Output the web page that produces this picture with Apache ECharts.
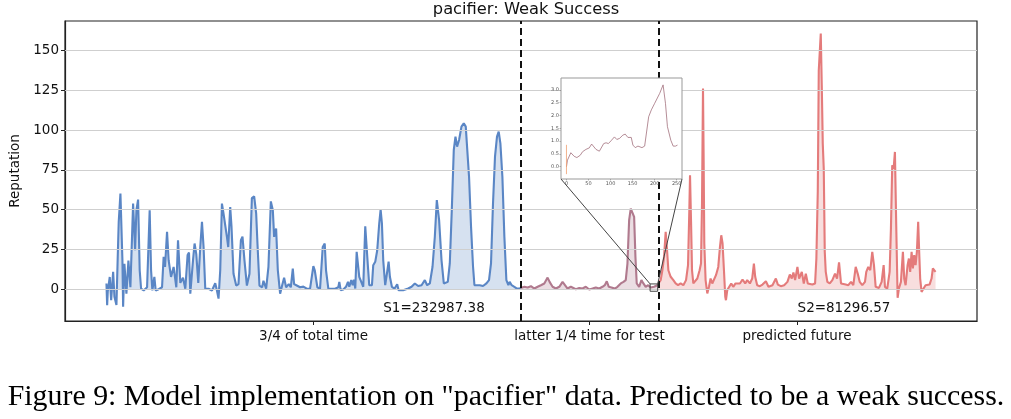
<!DOCTYPE html>
<html><head><meta charset="utf-8">
<script src="https://cdn.jsdelivr.net/npm/echarts@6/dist/echarts.min.js"></script>
<style>html,body{margin:0;padding:0;background:#fff}#c{width:1011px;height:419px}</style>
</head><body><div id="c"></div>
<script>
// ---- data (time index, reputation) ----
const blueT = [0,0.7,1.3,3.3,4.7,6.7,8,10,11.3,12.3,14,14.7,16,16.7,18,20,22,24,26.7,27.3,28.7,30,31.7,33.3,34.7,37.3,40.7,43.3,44.7,46,48,49.3,52.3,55.7,57.3,58.7,60.7,62.3,64.7,67.3,70,71.7,74,76.7,79,81.3,82.7,84,86.7,88.3,90,92,94,95.7,97.3,99,102.3,105.7,109,110.7,112.3,114,115.7,117.3,119,120.7,122,124,125.3,127.3,130,132.3,134.7,136.3,138.3,140.7,143.3,145.7,148,150,151.3,153.3,156,157.3,160,162.3,164.7,166.7,168,170,171.7,174,176,178,180,182.7,184.7,186.7,188,190.7,194,197.3,200.7,204,206,207.3,208.7,210,211.3,214,216.7,218.7,220,222.3,225.7,229,232.3,233.3,234.7,237.3,240,242,243.3,245.3,246.7,248,249.3,250.7,252,253.3,255.3,257.3,259.3,260.7,262,263.3,266,267.3,269.3,271.3,273.3,274.7,276,277.3,279.3,281.3,282.7,284,286,288.7,291.3,292.7,297.3,302.3,305.7,309,310.7,312.3,315.7,319,321.3,324,326.7,329,331,333.3,335.7,338,340,342,344,346,348,349.7,351.3,353.3,355.7,358,360,361.3,363.3,365.3,367.3,368.7,370.7,374,377.3,380.7,383.3,385.3,387.3,389.3,391.3,393,394.7,396.7,398.7,400.7,402.7,404,406,408.7,411.3,414,415];
const blueV = [3.6,-10,-1.6,7.7,-6.9,10.9,-4.8,-10,20.4,42.3,60.1,61.2,18.2,-11,16,-2.8,18,1.2,53.8,54.2,24.5,49.6,56.3,11.9,0.3,-0.8,1.2,49.6,11.9,-0.8,7.7,-0.8,0,1.2,20.4,14,36.1,18.2,7.7,14,1.2,30.8,4,7.2,0.3,21.5,23,-2.8,18,28.7,22,4,26.5,42.3,26.5,0.3,0.3,-0.8,3.7,-0.8,-5.9,11.9,53.8,47.5,48.6,32.9,26.5,51.7,39.2,9.7,2.3,3.2,30.8,33,18,2.3,9.7,57.3,58.4,47.6,28.7,2.3,1.2,5.3,0.3,14,55.2,49.6,32.9,38.2,11.9,-2.8,2.3,7.2,1.2,3.2,1.2,12.9,3.2,2.3,1.2,1.6,0.3,0.3,1.2,14.5,11.9,12.9,1.2,0.3,26.5,28.7,11.9,0.3,0.3,0.3,1.2,4.6,-0.6,-0.2,1.5,4.6,1.5,5.7,2.5,6,0.4,23.5,22.5,7.8,6.8,1.5,39.6,39.2,14.1,2.5,2.5,15.1,17.2,24.5,41.3,50.1,41.3,18.3,2.5,11,17.3,7.8,1.5,0.4,3.1,-0.6,-0.6,0.4,1.5,3.6,4.6,2,2.5,5.7,2.5,3.6,14.1,32.9,56,43.4,18.3,3.6,2.5,4.6,16.2,49.7,87.5,95.9,89.6,93.8,102.2,104.3,102.2,89.6,70.7,39.2,14.1,2.5,1.5,2.5,2,3.6,5.7,16.2,53.9,83.3,95.9,99,91.7,70.7,32.9,5.7,2.5,4.6,2.5,1.5,0.4,0.4,0.8];

const testT = [415,418.7,422,425.3,428.7,432,435.3,438.7,442,444,447,450.3,453.7,457,458.7,462,465.3,470.3,473.7,477,480.3,483.7,487,490.3,493.7,497,499.3,501.3,503.3,506,509.3,512,515.3,518,520.3,522,523.7,525.3,527,528.7,530,531.3,533.7,536,538,540.3,542.7,545.3,548.7,552,553];
const testV = [0.8,1.5,1.1,1.9,0.4,1.5,2.5,3.6,7.3,4.6,1.5,0.4,1.5,4.6,3.6,0.4,1.5,0,0.8,0.4,1.5,-0.2,0.4,1.1,0.4,1.5,2.5,5,1.5,1.1,0.4,1.5,3.6,4.6,5.7,16.1,43.4,50.7,51.8,45.5,20.3,3.6,1.5,5.7,3.6,1.5,2.5,1.1,1.5,2.5,3.6];

const redT = [553,555.3,557,558.7,560.3,561.7,563,565.3,568,570.3,572.7,575.3,578,580.7,582.7,584,584.7,585.7,586.7,588,589.7,592,594.3,595.7,596.7,597.7,598.3,599,600.3,602,603.7,605.3,607,608.7,610.7,613,614.7,616,617.3,618.7,620,620.7,622,624,626,628,630.3,632,634.7,637.3,640,642,644.7,647,648.7,650,652,654.7,657.3,660.7,663.3,667.3,670.7,672.7,675.7,679,682.3,684.7,686.7,688.3,690,692.3,694,696.7,698.7,700.7,702.7,704.7,707.3,710,711.3,712.7,713.7,714.7,715.7,716.7,717.7,718.7,719.7,720.7,722.3,724.7,727.3,730,732,734,736,738,740.7,743.3,746,748.3,750.7,752.7,754.7,757.3,760,761.3,763.3,765.3,767.3,769,770.7,774,776.7,778.7,780,782.3,784.7,786,787.3,788.7,790,791.3,792.7,794,796,798,799.3,800.7,802.7,804,805.3,806.7,808,809.3,810.7,812,813.3,814.3,815.3,816.7,818.7,820.7,822.7,824.7,826.7,828,829.3,830.7];
const redV = [3.6,5.7,11.9,20.3,36,24.5,11.9,7.8,5.7,3.6,2.5,3.6,2.5,5.7,15.1,49.6,71.6,43.4,11.9,3.6,4.6,6.7,11.9,16.1,53.8,126.1,85.3,28.7,5.7,-2.7,1.5,6.7,3.6,4.6,8.8,14,26.6,33.9,28.7,11.9,-4.8,-6.9,-0.6,1.5,3.6,1.5,3.6,4.6,3.6,6.1,3.6,5.7,3.6,6.7,16.1,7.8,2.5,1.9,2.9,5,1.5,2.5,6.7,2.9,1.9,2.5,4.6,9.2,6.7,10.5,5.7,14,6.7,10.9,3.6,9.8,3.6,2.5,2.9,3.6,19.3,61.2,137.6,138.7,160.7,128.2,91.5,75.8,23.5,10.9,4.6,3.6,5.7,9.8,6.7,16.8,3.6,2.5,2.9,2.5,4.6,2.5,14,9.8,4.6,2.5,4.6,10.9,14,11.9,23.5,15.1,1.5,0.8,4.6,15.1,1.5,0.4,10.9,38.1,77.9,75.8,86.3,40.2,-5.4,0.4,4.6,23.5,6.7,2.5,15.1,19.3,10.9,23.5,13,21.4,15.1,23.5,42.3,23.5,6.7,-1.7,0.4,2.5,3.6,2.9,6.7,13,14,10.9];

const yTicks = [0,25,50,75,100,125,150];
const xTickLabels = ['3/4 of total time','latter 1/4 time for test','predicted future'];
const scoreLabels = ['S1=232987.38','S2=81296.57'];
const titleText = 'pacifier: Weak Success';
const captionText = 'Figure 9: Model implementation on "pacifier" data. Predicted to be a weak success.';

// inset (zoomed view)
const insetX = [0,2.3,9.9,13.7,17.5,23.6,31.2,36.5,44.1,51.7,57.1,61.6,67,74.6,78.4,84.5,89.8,95.1,101.2,108.8,114.1,120.2,127.9,133.2,139.3,146.9,150.7,156,162.1,165.9,171.2,177.3,181.1,186.4,192.5,200.1,211.5,219.1,224.5,229,236.6,242,247.3,251.8];
const insetY = [-0.01,0.25,0.54,0.58,0.40,0.35,0.44,0.58,0.67,0.73,0.88,0.90,0.67,0.60,0.64,0.90,0.93,0.90,1.01,1.16,1.06,1.10,1.23,1.27,1.14,1.14,0.84,0.74,0.80,0.84,0.74,0.80,0.74,1.95,2.22,2.48,2.87,3.20,2.48,1.56,1.03,0.80,0.80,0.84];
const insetOrangeX = [0,0];
const insetOrangeY = [0.85,-0.3];
const insetXTicks = [0,50,100,150,200,250];
const insetYTicks = [0,0.5,1,1.5,2,2.5,3];
const zoomBoxT = [544.7,552.3];
const zoomBoxV = [-1.3,3.3];

// ---- build ----
const pairs = (a,b) => a.map((x,i)=>[x,b[i]]);
const tStart = blueT[0], tEnd = redT[redT.length-1], span = tEnd - tStart;
const xMin = tStart - 0.05*span, xMax = tEnd + 0.05*span;
const segs = [[blueT[0],blueT[blueT.length-1]],[testT[0],testT[testT.length-1]],[redT[0],redT[redT.length-1]]];
const xTickPos = segs.map(s=>(s[0]+s[1])/2);
const splitAt = [blueT[blueT.length-1], testT[testT.length-1]];

const FONT = 'DejaVu Sans';
const INSET = {left:561, top:78, width:121, height:101};

const chart = echarts.init(document.getElementById('c'));
function lineSeries(name, data, color){
  return {name, type:'line', data, showSymbol:false, symbol:'none', z:3,
    lineStyle:{color, width:2.1}, itemStyle:{color},
    areaStyle:{color, opacity:0.25, origin:0}, animation:false};
}
const option = {
  animation:false,
  backgroundColor:'#fff',
  title:{text:titleText, left:521, top:-3, textAlign:'center',
    textStyle:{fontFamily:FONT, fontSize:16.3, fontWeight:'normal', color:'#111'}},
  grid:[
    {left:65, right:34, top:21, bottom:98, show:true, borderColor:'#222', borderWidth:1.2, backgroundColor:'transparent', containLabel:false},
    {left:INSET.left, top:INSET.top, width:INSET.width, height:INSET.height, show:true, backgroundColor:'#fff', borderColor:'#999', borderWidth:1, z:10}
  ],
  xAxis:[
    {type:'value', gridIndex:0, min:xMin, max:xMax,
      axisLine:{show:true, onZero:false, lineStyle:{color:'#222', width:1.2}},
      axisTick:{show:true, customValues:xTickPos, length:4, lineStyle:{color:'#222'}},
      axisLabel:{customValues:xTickPos, margin:8, fontFamily:FONT, fontSize:13.5, color:'#111',
        formatter:(v)=>{let k=0,d=1e9;xTickPos.forEach((p,i)=>{if(Math.abs(p-v)<d){d=Math.abs(p-v);k=i;}});return xTickLabels[k];}},
      splitLine:{show:false}},
    {type:'value', gridIndex:1, min:-12.4, max:262, z:11,
      axisLine:{show:false, onZero:false}, axisTick:{show:true, customValues:insetXTicks, length:1.5, lineStyle:{color:'#777', width:0.5}},
      axisLabel:{customValues:insetXTicks, margin:2, fontSize:5, color:'#555', fontFamily:FONT},
      splitLine:{show:false}}
  ],
  yAxis:[
    {type:'value', gridIndex:0, min:-20, max:168.6, name:'Reputation', nameLocation:'middle', nameGap:40,
      nameTextStyle:{fontFamily:FONT, fontSize:13.5, color:'#111'},
      axisLine:{show:true, onZero:false, lineStyle:{color:'#222', width:1.2}},
      axisTick:{show:true, customValues:yTicks, length:4, lineStyle:{color:'#222'}},
      axisLabel:{customValues:yTicks, margin:6, fontFamily:FONT, fontSize:13.5, color:'#111'},
      splitLine:{show:false}},
    {type:'value', gridIndex:1, min:-0.49, max:3.47, z:11,
      axisLine:{show:false, onZero:false}, axisTick:{show:true, customValues:insetYTicks, length:1.5, lineStyle:{color:'#777', width:0.5}},
      axisLabel:{customValues:insetYTicks, margin:2, fontSize:5, color:'#555', fontFamily:FONT, formatter:(v)=>v.toFixed(1)},
      splitLine:{show:false}}
  ],
  series:[
    {type:'line', data:[], z:1, silent:true, xAxisIndex:0, yAxisIndex:0,
      markLine:{silent:true, symbol:['none','none'], label:{show:false}, animation:false,
        lineStyle:{color:'#cfcfcf', width:1, type:'solid'},
        data:yTicks.map(v=>({yAxis:v}))}},
    lineSeries('train', pairs(blueT,blueV), '#5a86c5'),
    lineSeries('test', pairs(testT,testV), '#b07a8e'),
    lineSeries('future', pairs(redT,redV), '#e47b7b'),
    {type:'line', data:[], z:6, silent:true, xAxisIndex:0, yAxisIndex:0,
      markLine:{silent:true, symbol:['none','none'], label:{show:false}, animation:false,
        lineStyle:{color:'#111', width:2, type:[7,4]},
        data:splitAt.map(v=>({xAxis:v}))}},
    {type:'line', xAxisIndex:1, yAxisIndex:1, z:12, data:pairs(insetX,insetY), showSymbol:false, symbol:'none',
      lineStyle:{color:'#a2707c', width:0.8}},
    {type:'line', xAxisIndex:1, yAxisIndex:1, z:12, data:pairs(insetOrangeX,insetOrangeY), showSymbol:false, symbol:'none',
      lineStyle:{color:'#f0a070', width:0.8}}
  ]
};
chart.setOption(option);

// caption font size fitted to the reference caption width
const cv = document.createElement('canvas').getContext('2d');
cv.font = '100px "Liberation Serif"';
const capSize = 100*997/cv.measureText(captionText).width;

const p0 = chart.convertToPixel({gridIndex:0}, [zoomBoxT[0], zoomBoxV[1]]);
const p1 = chart.convertToPixel({gridIndex:0}, [zoomBoxT[1], zoomBoxV[0]]);
const insetBL = [INSET.left, INSET.top+INSET.height];
const insetBR = [INSET.left+INSET.width, INSET.top+INSET.height];
chart.setOption({graphic:[
  {type:'rect', z:20, silent:true, shape:{x:p0[0], y:p0[1], width:p1[0]-p0[0], height:p1[1]-p0[1]}, style:{fill:'none', stroke:'#444', lineWidth:1}},
  {type:'line', z:20, silent:true, shape:{x1:insetBL[0], y1:insetBL[1], x2:p0[0], y2:p0[1]}, style:{stroke:'#444', lineWidth:1}},
  {type:'line', z:20, silent:true, shape:{x1:insetBR[0], y1:insetBR[1], x2:p1[0], y2:p0[1]}, style:{stroke:'#444', lineWidth:1}},
  {type:'text', z:20, x:434, y:308, style:{text:scoreLabels[0], font:'13.5px "DejaVu Sans"', fill:'#111', textAlign:'center', textVerticalAlign:'middle'}},
  {type:'text', z:20, x:844, y:308, style:{text:scoreLabels[1], font:'13.5px "DejaVu Sans"', fill:'#111', textAlign:'center', textVerticalAlign:'middle'}},
  {type:'text', z:20, x:506, y:397, style:{text:captionText, font:capSize.toFixed(2)+'px "Liberation Serif"', fill:'#000', textAlign:'center', textVerticalAlign:'middle'}}
]});
</script></body></html>
